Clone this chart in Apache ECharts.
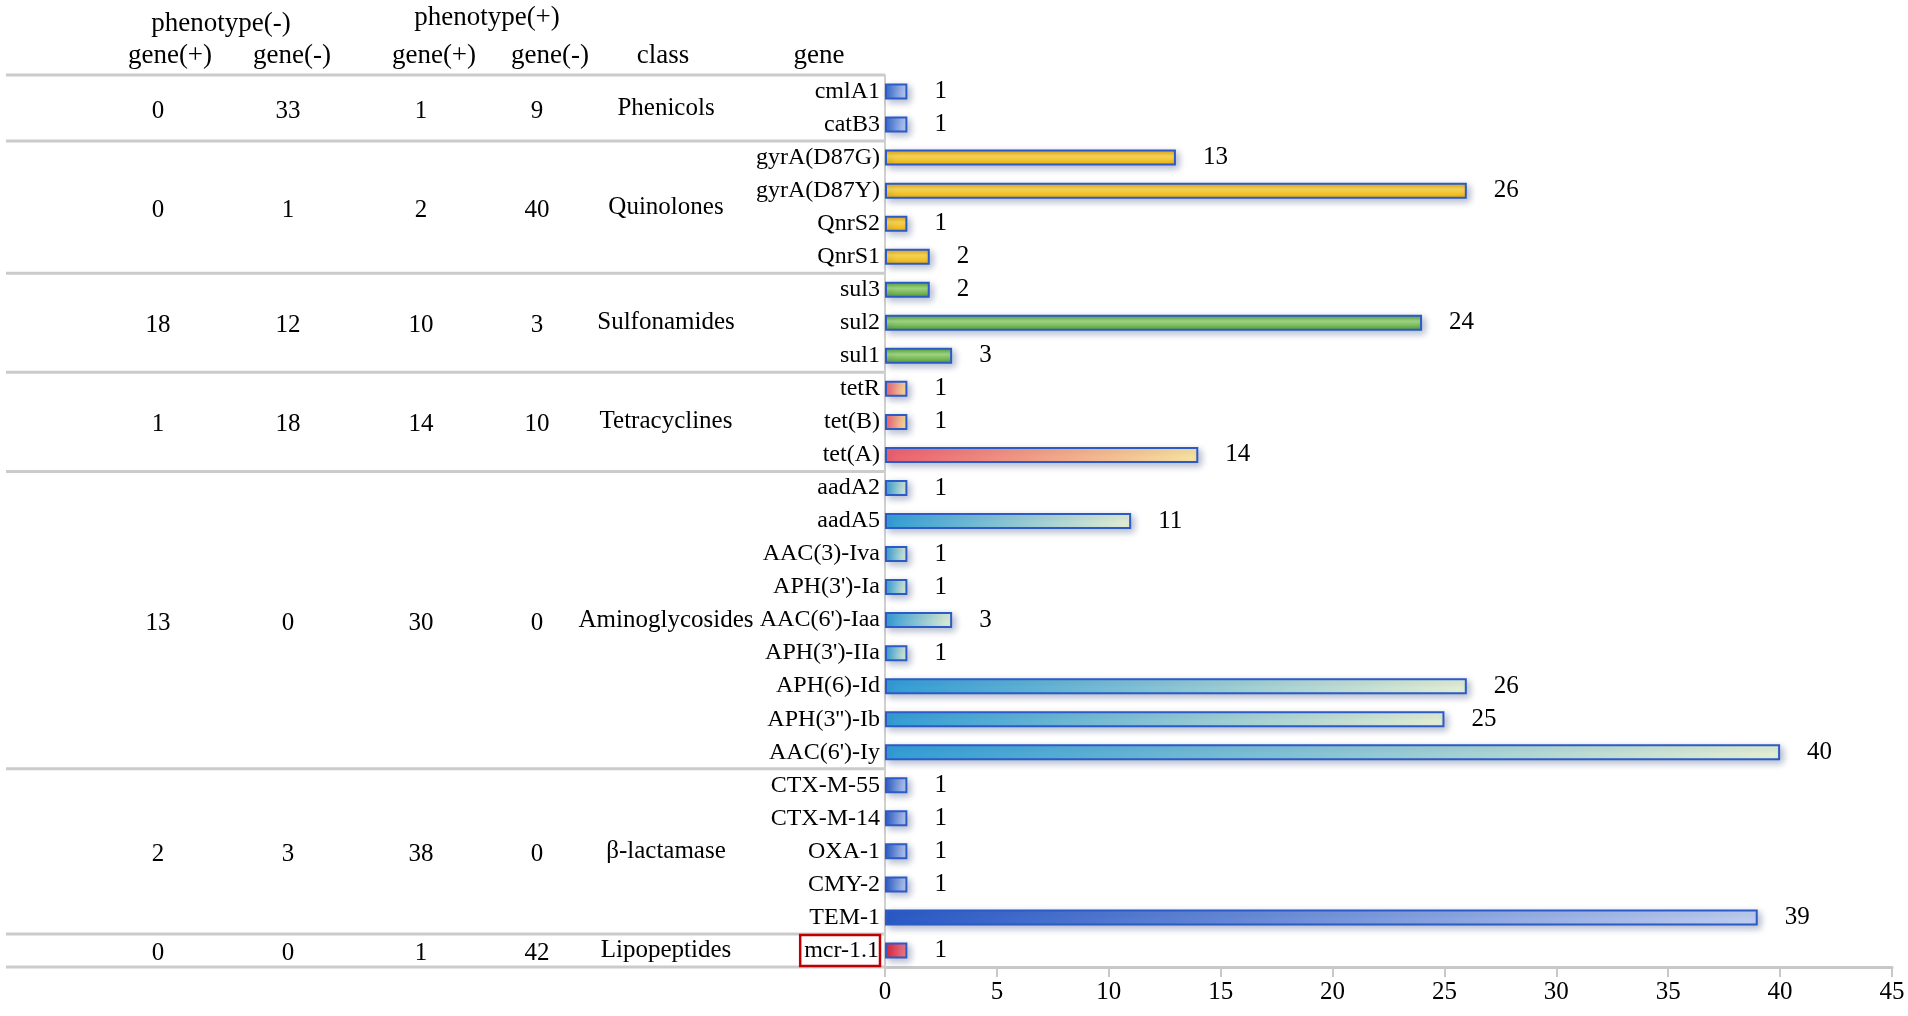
<!DOCTYPE html>
<html>
<head>
<meta charset="utf-8">
<title>resistance genes</title>
<script src="https://cdn.jsdelivr.net/npm/echarts@6/dist/echarts.min.js"></script>
<style>
  html, body { margin: 0; padding: 0; background: #fff; }
  #chart { width: 1908px; height: 1016px; }
</style>
</head>
<body>
<div id="chart"></div>
<script>
// gene rows, top to bottom
const genes = ['cmlA1', 'catB3', 'gyrA(D87G)', 'gyrA(D87Y)', 'QnrS2', 'QnrS1', 'sul3', 'sul2', 'sul1',
  'tetR', 'tet(B)', 'tet(A)', 'aadA2', 'aadA5', 'AAC(3)-Iva', "APH(3')-Ia", "AAC(6')-Iaa", "APH(3')-IIa",
  'APH(6)-Id', "APH(3'')-Ib", "AAC(6')-Iy", 'CTX-M-55', 'CTX-M-14', 'OXA-1', 'CMY-2', 'TEM-1', 'mcr-1.1'];
const geneCounts = [1, 1, 13, 26, 1, 2, 2, 24, 3, 1, 1, 14, 1, 11, 1, 1, 3, 1, 26, 25, 40, 1, 1, 1, 1, 39, 1];

// classes and how many gene rows each one covers
const classes = ['Phenicols', 'Quinolones', 'Sulfonamides', 'Tetracyclines', 'Aminoglycosides', 'β-lactamase', 'Lipopeptides'];
const classSizes = [2, 4, 3, 3, 9, 5, 1];

// left table columns
const phenoNegGenePos = [0, 0, 18, 1, 13, 2, 0];
const phenoNegGeneNeg = [33, 1, 12, 18, 0, 3, 0];
const phenoPosGenePos = [1, 2, 10, 14, 30, 38, 1];
const phenoPosGeneNeg = [9, 40, 3, 10, 0, 0, 42];

const xTicks = [0, 5, 10, 15, 20, 25, 30, 35, 40, 45];

// fill per class
function hgrad(a, b) {
  return new echarts.graphic.LinearGradient(0, 0, 1, 0, [{ offset: 0, color: a }, { offset: 1, color: b }]);
}
function vgrad(a, b, c) {
  return new echarts.graphic.LinearGradient(0, 0, 0, 1, [
    { offset: 0, color: a }, { offset: 0.4, color: b }, { offset: 1, color: c }]);
}
const classFills = [
  hgrad('#3568d0', '#c4d5f5'),
  vgrad('#e59e00', '#ffdc55', '#efad00'),
  vgrad('#4a9c28', '#a6dc84', '#4c9a2a'),
  hgrad('#f2606f', '#fde7a0'),
  hgrad('#33a0d8', '#e8f3d6'),
  hgrad('#2a5bc8', '#c3d2f3'),
  hgrad('#e2203a', '#f2808a')
];

const FONT = '"Liberation Serif", "Times New Roman", serif';

const geneClassIdx = [];
classSizes.forEach((n, ci) => { for (let k = 0; k < n; k++) geneClassIdx.push(ci); });

const chart = echarts.init(document.getElementById('chart'));

chart.setOption({
  animation: false,
  grid: { left: 885, right: 16, top: 75, bottom: 49 },
  xAxis: {
    type: 'value',
    min: 0, max: 45, interval: 5,
    axisLine: { show: true, lineStyle: { color: '#c8c8c8', width: 3 } },
    axisTick: { show: true, length: 10, lineStyle: { color: '#c8c8c8', width: 2 } },
    splitLine: { show: false },
    axisLabel: {
      color: '#000', fontFamily: FONT, fontSize: 25, margin: 13,
      formatter: v => xTicks.includes(v) ? String(v) : ''
    }
  },
  yAxis: {
    type: 'category',
    inverse: true,
    data: genes,
    axisLine: { show: true, lineStyle: { color: '#d0d0d0', width: 2 } },
    axisTick: { show: false },
    axisLabel: {
      color: '#000', fontFamily: FONT, fontSize: 24, margin: 5,
      formatter: v => v === 'mcr-1.1' ? '{box|' + v + '}' : v,
      rich: {
        box: {
          color: '#000', fontFamily: FONT, fontSize: 24,
          borderColor: '#c00000', borderWidth: 2.5, padding: [4, 1, 3, 4]
        }
      }
    }
  },
  series: [{
    type: 'bar',
    barWidth: 16,
    data: geneCounts.map((v, i) => ({
      value: v,
      itemStyle: {
        color: classFills[geneClassIdx[i]],
        borderColor: '#2c5bc6', borderWidth: 2,
        shadowBlur: 7, shadowColor: 'rgba(30,50,110,0.32)', shadowOffsetX: 3, shadowOffsetY: 3
      }
    })),
    label: {
      show: true, position: 'right', distance: 27,
      color: '#000', fontFamily: FONT, fontSize: 25
    }
  }]
});

// left table, rows placed from the category axis
const yc = i => chart.convertToPixel({ yAxisIndex: 0 }, i);
const band = yc(1) - yc(0);
const gridLeft = chart.convertToPixel({ xAxisIndex: 0 }, 0);

const cols = [158, 288, 421, 537];
const classX = 666;
const tableCols = [phenoNegGenePos, phenoNegGeneNeg, phenoPosGenePos, phenoPosGeneNeg];
const txt = (x, y, s, size) => ({
  type: 'text', x: x, y: y,
  style: { text: s, fill: '#000', font: size + 'px ' + FONT, textAlign: 'center', textVerticalAlign: 'middle' }
});
const graphics = [
  txt(221, 24, 'phenotype(-)', 27),
  txt(487, 18, 'phenotype(+)', 27),
  txt(170, 56, 'gene(+)', 27),
  txt(292, 56, 'gene(-)', 27),
  txt(434, 56, 'gene(+)', 27),
  txt(550, 56, 'gene(-)', 27),
  txt(663, 56, 'class', 27),
  txt(819, 56, 'gene', 27)
];

let start = 0;
const sepYs = [yc(0) - band / 2];
classes.forEach((c, ci) => {
  const end = start + classSizes[ci] - 1;
  const mid = (yc(start) + yc(end)) / 2;
  tableCols.forEach((col, k) => graphics.push(txt(cols[k], mid + 3, String(col[ci]), 25)));
  graphics.push(txt(classX, mid, c, 25));
  sepYs.push(yc(end) + band / 2);
  start = end + 1;
});
sepYs.forEach(y => graphics.push({
  type: 'line',
  shape: { x1: 6, y1: y, x2: gridLeft, y2: y },
  style: { stroke: '#cbcbcb', lineWidth: 3 }
}));

chart.setOption({ graphic: graphics });
</script>
</body>
</html>
